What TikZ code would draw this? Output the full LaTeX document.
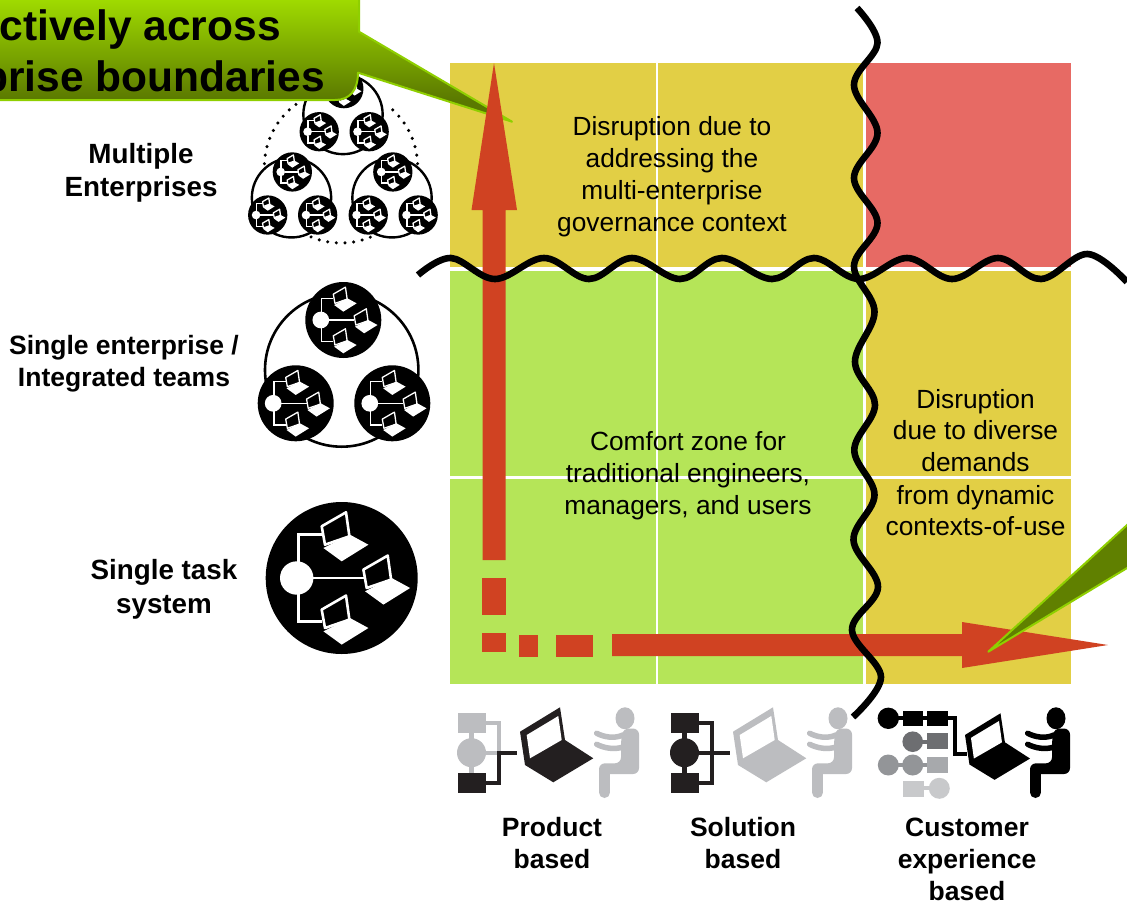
\documentclass[tikz,border=0pt]{standalone}
\usepackage{fontspec}
\setmainfont{Liberation Sans}
\definecolor{cellY}{HTML}{E2CF45}
\definecolor{cellR}{HTML}{E76A64}
\definecolor{cellG}{HTML}{B5E558}
\definecolor{redA}{HTML}{D04222}
\definecolor{calBot}{HTML}{5A7800}
\definecolor{calTop}{HTML}{A6E400}
\definecolor{calEdge}{HTML}{8FCF00}
\definecolor{calFlat}{HTML}{608000}
\definecolor{gI}{HTML}{BCBDC0}
\definecolor{gK}{HTML}{231F20}
\definecolor{g1}{HTML}{6D6E71}
\definecolor{g2}{HTML}{939598}
\definecolor{g3}{HTML}{A7A9AC}
\definecolor{g4}{HTML}{C8C9CB}
\pgfdeclareverticalshading{calshade}{100bp}{color(0bp)=(calBot); color(33bp)=(calBot); color(75bp)=(calTop); color(100bp)=(calTop)}
\tikzset{
  bodytext/.style={font=\fontsize{26.3}{32}\selectfont,align=center,text=black,inner sep=0pt,anchor=base},
  boldtext/.style={font=\fontsize{26.5}{33}\selectfont\bfseries,align=center,text=black,inner sep=0pt,anchor=base},
  boldbig/.style={font=\fontsize{27.8}{33}\selectfont\bfseries,align=center,text=black,inner sep=0pt,anchor=base},
  caltext/.style={font=\fontsize{42.5}{51}\selectfont\bfseries,text=black,inner sep=0pt,anchor=base east},
  wave/.style={line width=6.6pt,black,line join=round},
  callout/.style={draw=calEdge,line width=2pt,line join=round},
}
\newcommand{\neticon}[4]{%
  \begin{scope}[shift={(#1,#2)},scale=#3]
    \fill[black] (0,0) circle (76);
    \fill[white] (-45,0) circle (16.7);
    \draw[white,line width=#4] (-30,0) -- (22,0);
    \draw[white,line width=#4] (-43.3,-15) -- (-43.3,-43.3) -- (-20,-43.3);
    \draw[white,line width=#4] (-43.3,15) -- (-43.3,43.3) -- (-20,43.3);
    \foreach \dx/\dy in {0/0,41.7/43.3,0/83.3}{
      \begin{scope}[shift={(\dx,\dy)}]
        \filldraw[fill=black,draw=white,line width=#4,line join=round] (-20,-51.7) -- (4.3,-65.7) -- (7.7,-41.7) -- (-16.7,-33.3) -- cycle;
        \fill[white] (-18.3,-30) -- (8.3,-43.3) -- (26.7,-33.3) -- (0,-16.7) -- cycle;
      \end{scope}
    }
  \end{scope}}
\newcommand{\netgroup}[5]{%
  \begin{scope}[shift={(#1,#2)},scale=#3]
    \draw[black,line width=#4] (0,0) circle (76.7);
    \neticon{1.6}{-50}{.5}{#5}
    \neticon{-46}{33.3}{.5}{#5}
    \neticon{50.6}{33.3}{.5}{#5}
  \end{scope}}
\newcommand{\laptopicon}[4]{%
  \begin{scope}[shift={(#1,#2)},scale=#3]
    \fill[#4] (0,24.4) -- (40,0) -- (45,32.7) -- (73.3,51) -- (33.3,75) -- (5,57.7) -- cycle;
    \fill[white] (6.7,27.7) -- (38.3,8.7) -- (41.7,32.7) -- (10,51) -- cycle;
  \end{scope}}
\newcommand{\personicon}[2]{%
  \begin{scope}[shift={(#1,0)}]
    \fill[#2] (625,718.3) ellipse (9.5 and 11);
    \draw[#2,line width=5.5pt,line cap=round] (596.7,733.3) .. controls (604,737) and (614,739) .. (623,735);
    \draw[#2,line width=5.5pt,line cap=round] (596.7,744.3) .. controls (604,748) and (614,750) .. (623,747);
    \fill[#2,rounded corners=6pt] (621,740) -- (623,728.5) -- (639,728.5) -- (639,774) -- (605,774) -- (605,785) -- (599,785) -- (599,763.3) -- (621,763.3) -- cycle;
    \draw[#2,line width=11pt,line cap=round] (604.5,772) -- (604.5,792.5);
  \end{scope}}
\newcommand{\blockicon}[3]{%
  \begin{scope}[shift={(#1,0)}]
    \draw[#2,line width=4.5pt] (471.5,725) -- (471.5,780);
    \draw[#2,line width=4pt] (480,722.5) -- (499,722.5) -- (499,752.7) -- (475,752.7);
    \fill[#2] (458,712.7) rectangle (485.6,732.7);
    \fill[#2] (471.5,752.7) circle (14.5);
    \draw[#3,line width=4pt] (497,752.7) -- (517,752.7);
    \draw[#3,line width=4pt] (480,783) -- (499,783) -- (499,750.7);
    \fill[#3] (458,773) rectangle (485.6,793);
  \end{scope}}
\begin{document}
\begin{tikzpicture}[x=1pt,y=-1pt]
\useasboundingbox (0,0) rectangle (1127,905);
\fill[white] (0,0) rectangle (1127,905);
% grid
\fill[cellY] (450,63) rectangle (655.5,267);
\fill[cellY] (658,63) rectangle (862.5,267);
\fill[cellR] (866,63) rectangle (1071,267);
\fill[cellG] (450,271) rectangle (655.5,476);
\fill[cellG] (658,271) rectangle (862.5,476);
\fill[cellY] (866,271) rectangle (1071,476);
\fill[cellG] (450,478.5) rectangle (655.5,684);
\fill[cellG] (658,478.5) rectangle (862.5,684);
\fill[cellY] (866,478.5) rectangle (1071,684);
% left icons
\foreach \a in {126,132.5,...,179}{\fill[black] ({341+76.6*cos(\a)},{166.4-76.6*sin(\a)}) circle (1.7);}
\foreach \a in {2,8.5,...,53}{\fill[black] ({341+76.6*cos(\a)},{166.4-76.6*sin(\a)}) circle (1.7);}
\foreach \a in {247,253.5,...,294}{\fill[black] ({341+76.6*cos(\a)},{166.4-76.6*sin(\a)}) circle (1.7);}
\netgroup{343}{114.5}{.517}{2.4pt}{1.3pt}
\netgroup{291.5}{197.8}{.517}{2.4pt}{1.3pt}
\netgroup{392}{197.8}{.517}{2.4pt}{1.3pt}
\netgroup{341.7}{370}{1}{2.6pt}{1.3pt}
\neticon{341.7}{578}{1}{2.6pt}
% top callout
\path[callout,shading=calshade] (-10,-10) -- (359,-10) -- (359,31.7) -- (512,121.7) -- (358,72.7) .. controls (358,90) and (350,100) .. (335,100) -- (-10,100) -- cycle;
\node[caltext] (callA) at (281,40) {ctively across};
\node[caltext] (callB) at (325,91) {prise boundaries};
% red arrows
\fill[redA] (494,63) -- (517,210) -- (505.7,210) -- (505.7,560) -- (482.5,560) -- (482.5,210) -- (471.5,210) -- cycle;
\fill[redA] (482,578) rectangle (506,615);
\fill[redA] (482,633) rectangle (506,652);
\fill[redA] (519,635) rectangle (538,657);
\fill[redA] (556,635) rectangle (593,657);
\fill[redA] (612,634) -- (962,634) -- (962,622) -- (1108,645) -- (962,668) -- (962,656) -- (612,656) -- cycle;
% bottom callout tail
\path[callout,fill=calFlat] (988.3,651.7) -- (1147,506.8) -- (1147,556) -- cycle;
% waves
\coordinate (hs) at (418,275);
\coordinate (he) at (1127,282);
\draw[wave] plot[smooth,tension=.6] coordinates {(hs) (451,258) (495,279) (544,258) (589,279) (632,258) (680,279) (722,258) (772,279) (814,258) (859,279) (907,258) (952,279) (998,258) (1041,279) (1087.5,254) (he)};
\coordinate (vs) at (857,8);
\coordinate (ve) at (853,717);
\draw[wave] plot[smooth,tension=.6] coordinates {(vs) (877.5,43) (854,85) (877.5,133) (854,178) (877.5,223) (854,266) (874.5,311.7) (855,361.7) (875,405) (854.3,450) (874.5,495) (853.5,540) (878,587) (852,630) (881,677) (ve)};
% texts
\node[bodytext] (t1) at (672,135) {Disruption due to};
\node[bodytext] (t2) at (672,167) {addressing the};
\node[bodytext] (t3) at (672,199) {multi-enterprise};
\node[bodytext] (t4) at (672,231) {governance context};
\node[bodytext] (c1) at (688,450) {Comfort zone for};
\node[bodytext] (c2) at (688,482) {traditional engineers,};
\node[bodytext] (c3) at (688,514) {managers, and users};
\node[bodytext] (d1) at (975.5,408) {Disruption};
\node[bodytext] (d2) at (975.5,439) {due to diverse};
\node[bodytext] (d3) at (975.5,471) {demands};
\node[bodytext] (d4) at (975.5,504) {from dynamic};
\node[bodytext] (d5) at (975.5,535) {contexts-of-use};
\node[boldbig] (l1) at (141,163) {Multiple};
\node[boldbig] (l2) at (141,196.5) {Enterprises};
\node[boldtext] (l3) at (124,354) {Single enterprise /};
\node[boldtext] (l4) at (124,386) {Integrated teams};
\node[boldbig] (l5) at (164,579) {Single task};
\node[boldbig] (l6) at (164,613) {system};
\node[boldtext] (b1) at (552,836) {Product};
\node[boldtext] (b2) at (552,868) {based};
\node[boldtext] (b3) at (743,836) {Solution};
\node[boldtext] (b4) at (743,868) {based};
\node[boldtext] (b5) at (967,836) {Customer};
\node[boldtext] (b6) at (967,868) {experience};
\node[boldtext] (b7) at (967,900) {based};
% bottom icons
\blockicon{0}{gI}{gK}
\laptopicon{520}{707.3}{1}{gK}
\personicon{0}{gI}
\blockicon{213}{gK}{gK}
\laptopicon{733}{707.3}{1}{gI}
\personicon{213}{gI}
% customer experience blocks
\draw[black,line width=4pt] (890,718.3) -- (955,718.3) -- (955,754) -- (967,754);
\fill[black] (888.3,718.3) circle (10.7);
\fill[black] (903.3,710.7) rectangle (923.3,726);
\fill[black] (927.3,710.7) rectangle (948.3,726);
\draw[g1,line width=4pt] (913,741.7) -- (930,741.7);
\fill[g1] (912.7,741.7) circle (10.3);
\fill[g1] (927.3,733.3) rectangle (948.3,749);
\draw[g2,line width=4pt] (890,765) -- (930,765);
\fill[g2] (888.3,765) circle (10.5);
\fill[g2] (912.7,765) circle (10.5);
\fill[g3] (927.3,756.7) rectangle (948.3,772.7);
\draw[g4,line width=4pt] (920,788.3) -- (935,788.3);
\fill[g4] (902.7,781) rectangle (924,796.7);
\fill[g4] (939.3,788.3) circle (10.5);
\laptopicon{965}{713.3}{.887}{black}
\personicon{431}{black}
\end{tikzpicture}
\end{document}
